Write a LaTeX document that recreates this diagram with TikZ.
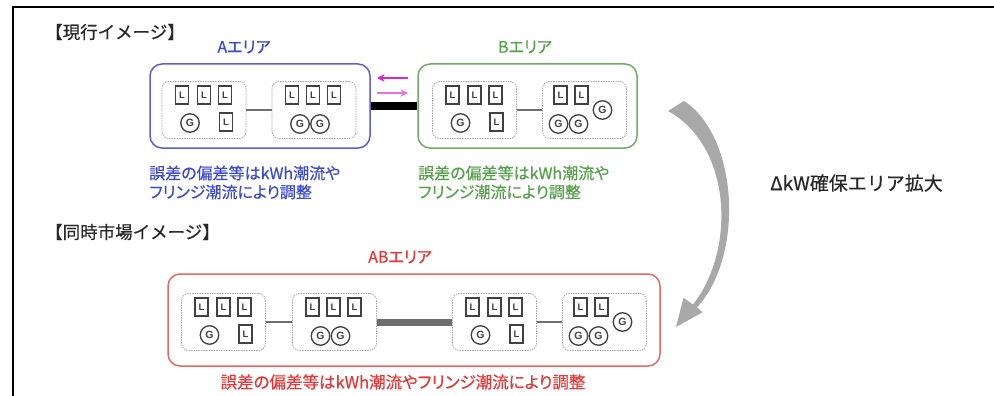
\documentclass[tikz,border=0pt]{standalone}
\usepackage{fontspec}
\newfontfamily\jp[RawFeature=+palt, FakeBold=0.4]{Noto Sans CJK JP}
\newfontfamily\jpw[FakeBold=0.4]{Noto Sans CJK JP}
\newfontfamily\lgf{Liberation Sans}
\usetikzlibrary{arrows.meta}
\definecolor{tblue}{RGB}{60,75,205}
\definecolor{bblue}{RGB}{95,95,205}
\definecolor{tgreen}{RGB}{85,160,75}
\definecolor{bgreen}{RGB}{115,170,105}
\definecolor{tred}{RGB}{228,55,55}
\definecolor{bred}{RGB}{225,105,105}
\definecolor{pinkc}{RGB}{220,40,200}
\definecolor{arrg}{RGB}{168,168,168}
\definecolor{itemc}{RGB}{65,65,65}
\definecolor{dashc}{RGB}{165,165,165}
\definecolor{conc}{RGB}{110,110,110}
\definecolor{darkt}{RGB}{40,40,40}
\tikzset{
  lb/.style={draw=itemc, line width=1.3pt, minimum width=13pt, minimum height=18pt,
    inner sep=0pt, text=itemc, font=\lgf\bfseries\fontsize{9.5}{9.5}\selectfont},
  gc/.style={draw=itemc, circle, line width=1.3pt, minimum size=18.5pt,
    inner sep=0pt, text=itemc, font=\lgf\bfseries\fontsize{10.5}{10.5}\selectfont},
  grp/.style={draw=dashc, line width=0.8pt, dash pattern=on 1.5pt off 1pt,
    rounded corners=7pt, minimum width=84pt, minimum height=57pt, inner sep=0pt},
  area/.style={line width=1.5pt, rounded corners=12pt, inner sep=0pt},
  thin con/.style={draw=conc, line width=1.8pt},
  jtext/.style={font=\jp\fontsize{16}{19}\selectfont, inner sep=0pt},
  htext/.style={font=\jpw\fontsize{17.5}{20}\selectfont, inner sep=0pt, text=darkt},
  pinkarr/.style={draw=pinkc, line width=1.6pt, -{Stealth[length=7.5pt,width=7.5pt]}},
  pone/.pic={
    \node[grp] (-box) at (0,0) {};
    \node[lb] (-l1) at (-22,-15) {L};
    \node[lb] (-l2) at (0,-15) {L};
    \node[lb] (-l3) at (21,-15) {L};
    \node[gc] (-g1) at (-14,13) {G};
    \node[lb] (-l4) at (22,12) {L};
  },
  ptwo/.pic={
    \node[grp] (-box) at (0,0) {};
    \node[lb] (-l1) at (-22,-15) {L};
    \node[lb] (-l2) at (-1,-15) {L};
    \node[lb] (-l3) at (20,-15) {L};
    \node[gc] (-g1) at (-14,14) {G};
    \node[gc] (-g2) at (6,14) {G};
  },
  pfour/.pic={
    \node[grp] (-box) at (0,0) {};
    \node[lb] (-l1) at (-24,-15) {L};
    \node[lb] (-l2) at (-3,-15) {L};
    \node[gc] (-g1) at (-26,14) {G};
    \node[gc] (-g2) at (-6,14) {G};
    \node[gc] (-g3) at (18,0) {G};
  }
}
\begin{document}
\begin{tikzpicture}[x=1pt,y=-1pt]
\useasboundingbox[fill=white] (0,0) rectangle (994,396);
% frame
\draw[line width=1.5pt, black] (13,396) -- (13,7) -- (994,7);

% headers
\node[htext, anchor=west] (h1) at (45,32) {【現行イメージ】};
\node[htext, anchor=west] (h2) at (45,232) {【同時市場イメージ】};

% area boxes
\node[area, draw=bblue, minimum width=220pt, minimum height=84pt] (Abox) at (260,106) {};
\node[area, draw=bgreen, minimum width=219pt, minimum height=84pt] (Bbox) at (527.5,106) {};
\node[area, draw=bred, minimum width=492pt, minimum height=92pt] (ABbox) at (414,320) {};

\node[jtext, text=tblue] (Alab) at (244,47) {Aエリア};
\node[jtext, text=tgreen] (Blab) at (525,47) {Bエリア};
\node[jtext, text=tred] (ABlab) at (400,257) {ABエリア};

% groups upper
\pic (A1) at (204,110) {pone};
\pic (A2) at (314,110) {ptwo};
\pic (B1) at (474.5,110) {pone};
\pic (B2) at (584.5,110) {pfour};
\draw[thin con] (A1-box) -- (A2-box);
\draw[thin con] (B1-box) -- (B2-box);
\draw[line width=8pt, black] (Abox) -- (Bbox);

% pink arrows
\coordinate (pa1) at (408,78);
\coordinate (pa2) at (377,78);
\coordinate (pb1) at (377,93);
\coordinate (pb2) at (408,93);
\draw[pinkarr] (pa1) -- (pa2);
\draw[pinkarr, draw=pinkc!65] (pb1) -- (pb2);

% groups lower
\pic (C1) at (223.5,322) {pone};
\pic (C2) at (334.5,322) {ptwo};
\pic (C3) at (494.5,322) {pone};
\pic (C4) at (604.5,322) {pfour};
\draw[thin con] (C1-box) -- (C2-box);
\draw[line width=7pt, conc] (C2-box) -- (C3-box);
\draw[thin con] (C3-box) -- (C4-box);

% notes
\node[jtext, text=tblue, anchor=west] (An1) at (149,173) {誤差の偏差等はkWh潮流や};
\node[jtext, text=tblue, anchor=west] (An2) at (149,192) {フリンジ潮流により調整};
\node[jtext, text=tgreen, anchor=west] (Bn1) at (418,173) {誤差の偏差等はkWh潮流や};
\node[jtext, text=tgreen, anchor=west] (Bn2) at (418,192) {フリンジ潮流により調整};
\node[jtext, text=tred, font=\jp\fontsize{16.5}{19}\selectfont] (ABn) at (403,382) {誤差の偏差等はkWh潮流やフリンジ潮流により調整};

% curved gray arrow
\fill[arrg] (684,101) .. controls (738,136) and (745,255) .. (697,307.5)
  -- (702.5,312.3) -- (676,327) -- (683.5,297.7) -- (693,304.5)
  .. controls (736,250) and (732,146) .. (668,111) -- cycle;

\node[htext, anchor=west, font=\jpw\fontsize{19}{22}\selectfont] (dkw) at (770,183) {ΔkW確保エリア拡大};
\end{tikzpicture}
\end{document}
